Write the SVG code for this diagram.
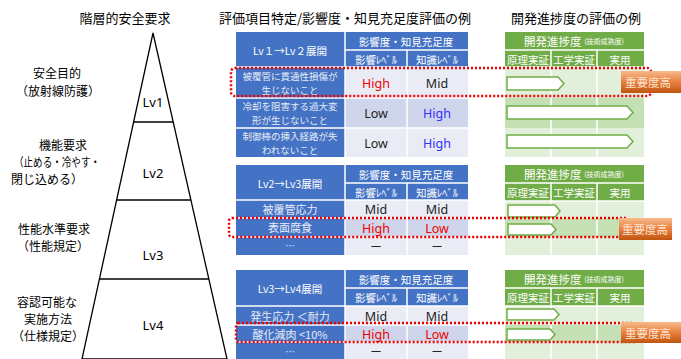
<svg xmlns="http://www.w3.org/2000/svg" width="681" height="359" viewBox="0 0 681 359">
<defs>
<linearGradient id="og" x1="0" y1="0" x2="0" y2="1">
<stop offset="0" stop-color="#f7b98b"/>
<stop offset="0.5" stop-color="#e9803e"/>
<stop offset="1" stop-color="#c05510"/>
</linearGradient>
<style>
text{font-family:"Noto Sans CJK JP","Noto Sans",sans-serif;text-anchor:middle;dominant-baseline:central}
.ttl{font-size:13px;fill:#000}
.lbl{font-size:12px;fill:#000}
.lv{font-size:13px;fill:#000;font-family:"Noto Sans","Noto Sans CJK JP",sans-serif}
.bh{fill:#4472c4}
.wt{fill:#fff;font-size:10.5px}
.lt{fill:#e6ecf7;font-size:9.5px}
.c1{fill:#e9ebf5}
.c2{fill:#cfd5ea}
.g{fill:#70ad47}
.g1{fill:#e2efda}
.g2{fill:#c5e0b4}
.v{font-size:12.5px;font-family:"Noto Sans","Noto Sans CJK JP",sans-serif}
.k{fill:#222}
.r{fill:#f00000}
.b{fill:#3030ff}
.sep{stroke:#fff;stroke-width:1.5;fill:none}
.arr{fill:#fff;stroke:#70ad47;stroke-width:1.5}
.red{fill:none;stroke:#ee0000;stroke-width:2.5;stroke-dasharray:2 2}
.badge{fill:url(#og)}
.bt{fill:#fde4d0;font-size:11.5px}
.line{stroke:#000;stroke-width:1.3;fill:none}
</style>
</defs>

<!-- titles -->
<text class="ttl" x="125" y="17">階層的安全要求</text>
<text class="ttl" x="345" y="17">評価項目特定/影響度・知見充足度評価の例</text>
<text class="ttl" x="576" y="17">開発進捗度の評価の例</text>

<!-- pyramid -->
<g id="pyramid">
<polygon class="line" points="153,33 82,359 227,359"/>
<line class="line" x1="133.6" y1="122" x2="173.2" y2="122"/>
<line class="line" x1="116.6" y1="200" x2="190.9" y2="200"/>
<line class="line" x1="99.4" y1="279" x2="208.8" y2="279"/>
</g>
<g id="lv1"><text class="lv" x="153" y="102">Lv1</text><text class="lbl" x="57" y="72">安全目的</text><text class="lbl" x="58" y="90">（放射線防護）</text></g>
<g id="lv2"><text class="lv" x="153" y="173">Lv2</text><text class="lbl" x="63" y="144">機能要求</text><text class="lbl" x="57" y="161" textLength="86" lengthAdjust="spacingAndGlyphs">（止める・冷やす・</text><text class="lbl" x="47" y="178">閉じ込める）</text></g>
<g id="lv3"><text class="lv" x="153" y="255">Lv3</text><text class="lbl" x="54" y="228">性能水準要求</text><text class="lbl" x="53" y="245">（性能規定）</text></g>
<g id="lv4"><text class="lv" x="153" y="325">Lv4</text><text class="lbl" x="47" y="301">容認可能な</text><text class="lbl" x="48" y="318">実施方法</text><text class="lbl" x="48" y="335">（仕様規定）</text></g>

<!-- table 1 -->
<g id="table1">
<rect class="bh" x="236" y="32" width="232" height="35"/>
<rect class="bh" x="236" y="67" width="109" height="90"/>
<rect class="c1" x="345" y="67" width="123" height="31"/>
<rect class="c2" x="345" y="98" width="123" height="30"/>
<rect class="c1" x="345" y="128" width="123" height="29"/>
<path class="sep" d="M345,32V157 M407,50V157 M345,50H468 M236,67H468 M236,98H468 M236,128H468"/>
<text class="wt" x="290" y="50">Lv１→Lv２展開</text>
<text class="wt" x="406" y="41">影響度・知見充足度</text>
<text class="wt" x="376" y="59">影響ﾚﾍﾞﾙ</text>
<text class="wt" x="437" y="59">知識ﾚﾍﾞﾙ</text>
<text class="lt" x="290" y="76">被覆管に貫通性損傷が</text>
<text class="lt" x="290" y="90">生じないこと</text>
<text class="lt" x="290" y="106">冷却を阻害する過大変</text>
<text class="lt" x="290" y="120">形が生じないこと</text>
<text class="lt" x="290" y="135.5">制御棒の挿入経路が失</text>
<text class="lt" x="290" y="149.5">われないこと</text>
<text class="v r" x="376" y="83">High</text><text class="v k" x="437" y="83">Mid</text>
<text class="v k" x="376" y="113">Low</text><text class="v b" x="437" y="113">High</text>
<text class="v k" x="376" y="143">Low</text><text class="v b" x="437" y="143">High</text>
</g>

<!-- table 2 -->
<g id="table2">
<rect class="bh" x="236" y="165" width="232" height="35"/>
<rect class="bh" x="236" y="200" width="109" height="55"/>
<rect class="c1" x="345" y="200" width="123" height="18"/>
<rect class="c2" x="345" y="218" width="123" height="19"/>
<rect class="c1" x="345" y="237" width="123" height="18"/>
<path class="sep" d="M345,165V255 M407,183V255 M345,183H468 M236,200H468 M236,218H468 M236,237H468"/>
<text class="wt" x="290" y="183">Lv2→Lv3展開</text>
<text class="wt" x="406" y="174">影響度・知見充足度</text>
<text class="wt" x="376" y="192">影響ﾚﾍﾞﾙ</text>
<text class="wt" x="437" y="192">知識ﾚﾍﾞﾙ</text>
<text class="lt" x="290" y="209" style="font-size:11px">被覆管応力</text>
<text class="lt" x="290" y="227" style="font-size:11px">表面腐食</text>
<text class="lt" x="290" y="245">…</text>
<text class="v k" x="376" y="209">Mid</text><text class="v k" x="437" y="209">Mid</text>
<text class="v r" x="376" y="228">High</text><text class="v r" x="437" y="228">Low</text>
<text class="v k" x="376" y="246">－</text><text class="v k" x="437" y="246">－</text>
</g>

<!-- table 3 -->
<g id="table3">
<rect class="bh" x="236" y="270" width="232" height="36"/>
<rect class="bh" x="236" y="306" width="109" height="53"/>
<rect class="c1" x="345" y="306" width="123" height="19"/>
<rect class="c2" x="345" y="325" width="123" height="17"/>
<rect class="c1" x="345" y="342" width="123" height="17"/>
<path class="sep" d="M345,270V359 M407,288V359 M345,288H468 M236,306H468 M236,325H468 M236,342H468"/>
<text class="wt" x="290" y="288">Lv3→Lv4展開</text>
<text class="wt" x="406" y="279">影響度・知見充足度</text>
<text class="wt" x="376" y="297">影響ﾚﾍﾞﾙ</text>
<text class="wt" x="437" y="297">知識ﾚﾍﾞﾙ</text>
<text class="lt" x="290" y="316" style="font-size:11px">発生応力 ＜耐力</text>
<text class="lt" x="290" y="334" style="font-size:11px">酸化減肉 &lt;10%</text>
<text class="lt" x="290" y="351">…</text>
<text class="v k" x="376" y="316">Mid</text><text class="v k" x="437" y="316">Mid</text>
<text class="v r" x="376" y="334">High</text><text class="v r" x="437" y="334">Low</text>
<text class="v k" x="376" y="351">－</text><text class="v k" x="437" y="351">－</text>
</g>

<!-- green table 1 -->
<g id="dev1">
<rect class="g" x="505" y="32" width="139" height="35"/>
<rect class="g1" x="505" y="67" width="139" height="31"/>
<rect class="g2" x="505" y="98" width="139" height="30"/>
<rect class="g1" x="505" y="128" width="139" height="29"/>
<path class="sep" d="M505,50H644 M551,50V157 M597,50V157 M505,67H644"/>
<text class="wt" x="574" y="41" style="font-size:11.5px">開発進捗度 <tspan style="font-size:7px">(技術成熟度)</tspan></text>
<text class="wt" x="528" y="59">原理実証</text>
<text class="wt" x="574" y="59">工学実証</text>
<text class="wt" x="620" y="59">実用</text>
<path class="arr" d="M507,77H558L564,83.5L558,90H507Z"/>
<path class="arr" d="M507,106H627L633,112.5L627,119H507Z"/>
<path class="arr" d="M507,135H627L633,141.5L627,148H507Z"/>
</g>

<!-- green table 2 -->
<g id="dev2">
<rect class="g" x="505" y="165" width="139" height="36"/>
<rect class="g1" x="505" y="201" width="139" height="17"/>
<rect class="g2" x="505" y="218" width="139" height="19"/>
<rect class="g1" x="505" y="237" width="139" height="18"/>
<path class="sep" d="M505,183H644 M551,183V255 M597,183V255 M505,201H644"/>
<text class="wt" x="574" y="174" style="font-size:11.5px">開発進捗度 <tspan style="font-size:7px">(技術成熟度)</tspan></text>
<text class="wt" x="528" y="192">原理実証</text>
<text class="wt" x="574" y="192">工学実証</text>
<text class="wt" x="620" y="192">実用</text>
<path class="arr" d="M508,205H555L560,211L555,217H508Z"/>
<path class="arr" d="M508,224H551L556,229.5L551,235H508Z"/>
</g>

<!-- green table 3 -->
<g id="dev3">
<rect class="g" x="505" y="270" width="139" height="36"/>
<rect class="g1" x="505" y="306" width="139" height="19"/>
<rect class="g2" x="505" y="325" width="139" height="17"/>
<rect class="g1" x="505" y="342" width="139" height="17"/>
<path class="sep" d="M505,288H644 M551,288V359 M597,288V359 M505,306H644"/>
<text class="wt" x="574" y="279" style="font-size:11.5px">開発進捗度 <tspan style="font-size:7px">(技術成熟度)</tspan></text>
<text class="wt" x="528" y="297">原理実証</text>
<text class="wt" x="574" y="297">工学実証</text>
<text class="wt" x="620" y="297">実用</text>
<path class="arr" d="M507,309H554L559,314.5L554,320H507Z"/>
<path class="arr" d="M507,329H550L555,334.5L550,340H507Z"/>
</g>

<!-- highlights -->
<g id="highlight1">
<rect class="red" x="231" y="68" width="420" height="28" rx="4"/>
<rect class="badge" x="621" y="71" width="70" height="22"/>
<text class="bt" x="648" y="82">重要度高</text>
</g>
<g id="highlight2">
<rect class="red" x="229" y="218" width="400" height="19" rx="3"/>
<rect class="badge" x="619" y="218" width="53" height="22"/>
<text class="bt" x="645" y="229">重要度高</text>
</g>
<g id="highlight3">
<rect class="red" x="236" y="323" width="400" height="19" rx="2"/>
<rect class="badge" x="621" y="322" width="70" height="21"/>
<text class="bt" x="648" y="332.5">重要度高</text>
</g>
</svg>
